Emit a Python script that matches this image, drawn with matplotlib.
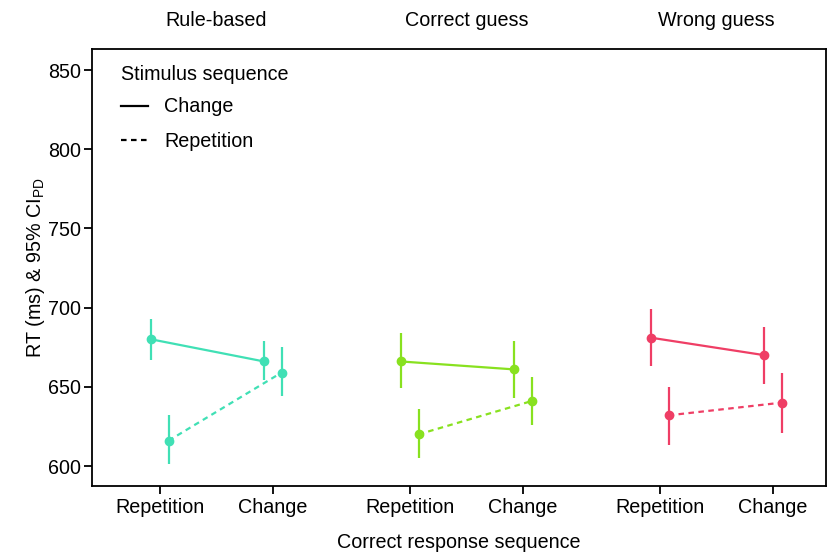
import matplotlib.pyplot as plt
from matplotlib.lines import Line2D

plt.rcParams['font.family'] = ['Liberation Sans', 'DejaVu Sans']
plt.rcParams['mathtext.fontset'] = 'custom'
plt.rcParams['mathtext.rm'] = 'Liberation Sans'

panels = ["Rule-based", "Correct guess", "Wrong guess"]
colors = ["#40E0B5", "#88E11F", "#EF3E65"]
levels = ["Repetition", "Change"]

# per panel: [Repetition, Change]
change_rt = [[680, 666], [666, 661], [681, 670]]
change_lo = [[667, 654], [649, 643], [663, 652]]
change_hi = [[693, 679], [684, 679], [699, 688]]
rep_rt = [[616, 659], [620, 641], [632, 640]]
rep_lo = [[601, 644], [605, 626], [613, 621]]
rep_hi = [[632, 675], [636, 656], [650, 659]]

gap = 2.212
dodge = 0.077
fs = 14.2

fig = plt.figure(figsize=(8.29, 5.53), dpi=100)
ax = fig.add_axes([0.111, 0.1212, 0.8854, 0.7902])

ticks = []
ticklabels = []
for i, name in enumerate(panels):
    base = [i * gap + j for j in range(2)]
    ticks += base
    ticklabels += levels
    col = colors[i]
    for rt, lo, hi, off, ls in [(change_rt[i], change_lo[i], change_hi[i], -dodge, "-"),
                                (rep_rt[i], rep_lo[i], rep_hi[i], dodge, (0, (2.5, 2)))]:
        xs = [b + off for b in base]
        ax.plot(xs, rt, color=col, lw=1.6, ls=ls)
        ax.errorbar(xs, rt, yerr=[[r - l for r, l in zip(rt, lo)], [h - r for r, h in zip(rt, hi)]],
                    fmt="o", color=col, ms=6, elinewidth=1.6, capsize=0)
    ax.text(i * gap + 0.5, 881, name, ha="center", va="center", fontsize=fs,
            family=['Liberation Sans Narrow', 'Liberation Sans'], clip_on=False)

ax.set_xticks(ticks)
ax.set_xticklabels(ticklabels, fontsize=fs)
ax.set_xlim(-0.6, 5.894)
ax.set_ylim(587.4, 863.3)
ax.set_yticks([600, 650, 700, 750, 800, 850])
ax.tick_params(axis="y", labelsize=fs, length=6, width=1.3, pad=2)
ax.tick_params(axis="x", length=6, width=1.3, pad=3)
for s in ax.spines.values():
    s.set_linewidth(1.3)
ax.set_xlabel("Correct response sequence", fontsize=fs, labelpad=11)
ax.set_ylabel(r"RT (ms) & 95% CI$_{\mathrm{PD}}$", fontsize=fs, labelpad=1)

handles = [Line2D([], [], color="black", lw=1.6, ls="-"),
           Line2D([], [], color="black", lw=1.6, ls=(0, (2.5, 2)))]
leg = ax.legend(handles, ["Change", "Repetition"], title="Stimulus sequence",
                loc="upper left", bbox_to_anchor=(0.015, 1.005), frameon=False,
                fontsize=fs, title_fontsize=fs, handlelength=1.4, handletextpad=0.8,
                labelspacing=0.8, alignment="left")
leg._legend_box.sep = 10

fig.savefig("out.png", dpi=100)
